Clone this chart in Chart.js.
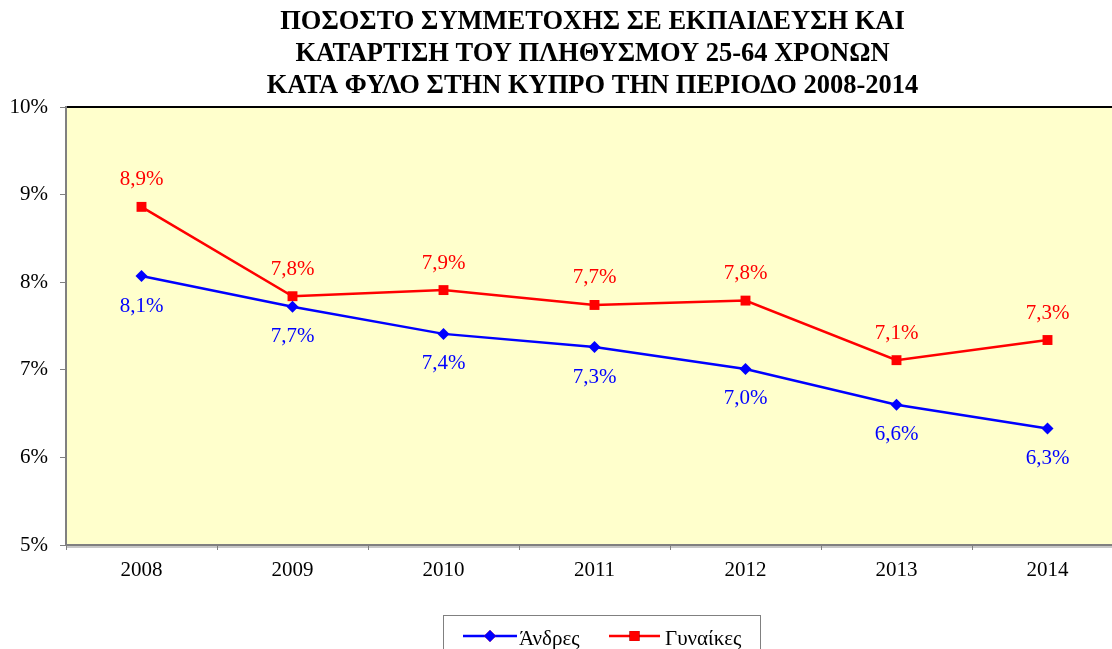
<!DOCTYPE html>
<html>
<head>
<meta charset="utf-8">
<script src="https://cdn.jsdelivr.net/npm/chart.js@4"></script>
<style>
  html, body { margin: 0; padding: 0; background: #fff; overflow: hidden; }
</style>
</head>
<body>
<canvas id="myChart" width="1130" height="649"></canvas>
<script>
// Datos del gráfico
const anios = ['2008', '2009', '2010', '2011', '2012', '2013', '2014'];
const andres = [8.07, 7.72, 7.41, 7.26, 7.01, 6.60, 6.33];
const gynaikes = [8.86, 7.84, 7.91, 7.74, 7.79, 7.11, 7.34];
const titulo = [
    'ΠΟΣΟΣΤΟ ΣΥΜΜΕΤΟΧΗΣ ΣΕ ΕΚΠΑΙΔΕΥΣΗ ΚΑΙ',
    'ΚΑΤΑΡΤΙΣΗ ΤΟΥ ΠΛΗΘΥΣΜΟΥ 25-64 ΧΡΟΝΩΝ',
    'ΚΑΤΑ ΦΥΛΟ ΣΤΗΝ ΚΥΠΡΟ ΤΗΝ ΠΕΡΙΟΔΟ 2008-2014'
];

const fuente = '"Liberation Serif", "Times New Roman", serif';
const ctx = document.getElementById('myChart').getContext('2d');

const formato = v => v.toFixed(1).replace('.', ',') + '%';

// fondo amarillo + borde superior
const fondoPlugin = {
    id: 'fondo',
    beforeDraw(chart) {
        const { ctx, chartArea: a } = chart;
        ctx.save();
        ctx.fillStyle = '#FFFFCC';
        ctx.fillRect(a.left, a.top, a.right - a.left, a.bottom - a.top);
        // sombra inferior
        ctx.fillStyle = '#c8c8c8';
        ctx.fillRect(a.left, a.bottom + 1, a.right - a.left, 2);
        ctx.strokeStyle = '#000';
        ctx.lineWidth = 2;
        ctx.beginPath();
        ctx.moveTo(a.left, a.top);
        ctx.lineTo(a.right, a.top);
        ctx.stroke();
        ctx.restore();
    }
};

// titulo, etiquetas y leyenda
const textosPlugin = {
    id: 'textos',
    afterDraw(chart) {
        const { ctx, chartArea: a } = chart;
        ctx.save();
        const cx = (a.left + a.right) / 2 - 2;
        ctx.fillStyle = '#000';
        ctx.font = 'bold 26.5px ' + fuente;
        ctx.textAlign = 'center';
        ctx.textBaseline = 'middle';
        titulo.forEach((linea, i) => ctx.fillText(linea, cx, 22 + i * 32));

        // etiquetas de datos
        ctx.font = '21px ' + fuente;
        chart.data.datasets.forEach((ds, i) => {
            const meta = chart.getDatasetMeta(i);
            ctx.fillStyle = ds.borderColor;
            meta.data.forEach((pt, j) => {
                const dy = i === 0 ? 30 : -27;
                ctx.fillText(formato(ds.data[j]), pt.x, pt.y + dy);
            });
        });

        // leyenda
        const lx = 443, ly = 615, lw = 317;
        ctx.strokeStyle = '#808080';
        ctx.lineWidth = 1;
        ctx.strokeRect(lx + 0.5, ly + 0.5, lw, 50);
        ctx.font = '21px ' + fuente;
        ctx.textAlign = 'left';
        const yl = 636;
        const items = [
            { x0: 463, x1: 517, tx: 519 },
            { x0: 609, x1: 660, tx: 665 }
        ];
        chart.data.datasets.forEach((ds, i) => {
            const it = items[i];
            ctx.strokeStyle = ds.borderColor;
            ctx.lineWidth = 2.5;
            ctx.beginPath();
            ctx.moveTo(it.x0, yl);
            ctx.lineTo(it.x1, yl);
            ctx.stroke();
            Chart.helpers.drawPoint(ctx, {
                pointStyle: ds.pointStyle,
                radius: ds.pointRadius,
                borderWidth: 0
            }, (it.x0 + it.x1) / 2, yl);
            ctx.fillStyle = ds.borderColor;
            ctx.fill();
            ctx.fillStyle = '#000';
            ctx.fillText(ds.label, it.tx, yl + 3);
        });
        ctx.restore();
    }
};

new Chart(ctx, {
    type: 'line',
    data: {
        labels: anios,
        datasets: [{
            label: 'Άνδρες',
            data: andres,
            borderColor: '#0000FF',
            backgroundColor: '#0000FF',
            borderWidth: 2.5,
            pointStyle: 'rectRot',
            pointRadius: 6,
            pointBorderWidth: 0,
            tension: 0
        }, {
            label: 'Γυναίκες',
            data: gynaikes,
            borderColor: '#FF0000',
            backgroundColor: '#FF0000',
            borderWidth: 2.5,
            pointStyle: 'rect',
            pointRadius: 7,
            pointBorderWidth: 0,
            tension: 0
        }]
    },
    options: {
        responsive: false,
        animation: false,
        layout: { padding: { top: 107, right: 2, left: 0, bottom: 0 } },
        plugins: {
            legend: { display: false },
            title: { display: false },
            tooltip: { enabled: false }
        },
        scales: {
            x: {
                offset: true,
                afterFit: s => { s.height = 104; },
                grid: { offset: true, drawOnChartArea: false, tickLength: 5, color: '#808080' },
                border: { color: '#808080', width: 2 },
                ticks: { color: '#000', padding: 8, font: { family: fuente, size: 21 } }
            },
            y: {
                min: 5,
                max: 10,
                afterFit: s => { s.width = 66; },
                grid: { drawOnChartArea: false, tickLength: 6, color: '#808080' },
                border: { color: '#808080', width: 2 },
                ticks: {
                    stepSize: 1,
                    color: '#000',
                    padding: 12,
                    font: { family: fuente, size: 21 },
                    callback: v => v + '%'
                }
            }
        }
    },
    plugins: [fondoPlugin, textosPlugin]
});
</script>
</body>
</html>
